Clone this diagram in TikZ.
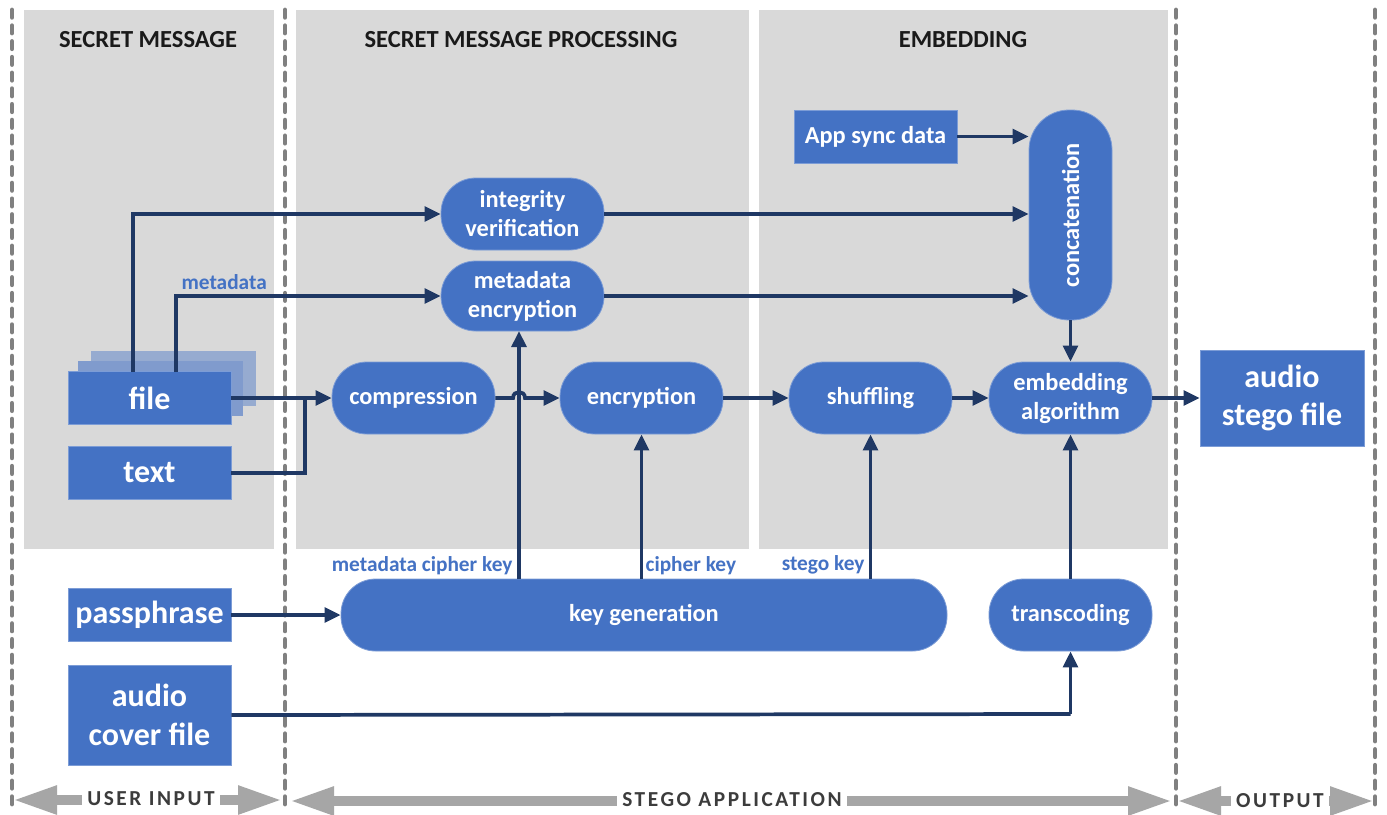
\documentclass[tikz,border=0pt]{standalone}
\usepackage{fontspec}
\setmainfont{Carlito}
\newfontfamily\spacedfont[LetterSpace=12]{Carlito}
\usetikzlibrary{arrows.meta}
\definecolor{boxblue}{HTML}{4472C4}
\definecolor{arrowblue}{HTML}{1F3864}
\definecolor{panelgrey}{HTML}{D9D9D9}
\definecolor{dotgrey}{HTML}{808080}
\definecolor{bigarrow}{HTML}{A6A6A6}
\definecolor{headtext}{HTML}{1A1A1A}
\begin{document}
\begin{tikzpicture}[x=0.75pt,y=-0.75pt,
  panel/.style={fill=panelgrey,draw=none},
  header/.style={font=\fontsize{18.4}{21}\selectfont\bfseries,text=headtext},
  sep/.style={draw=dotgrey,line width=3.6pt,line cap=round,dash pattern=on 5.5pt off 6.3pt},
  inbox/.style={rectangle,fill=boxblue,draw=boxblue!70!white,line width=0.6pt,text=white,
    minimum width=122.25pt,minimum height=39.75pt,inner sep=0pt,align=center,
    font=\fontsize{24}{29}\selectfont\bfseries},
  proc/.style={rectangle,rounded corners=26pt,fill=boxblue,draw=boxblue!70!white,line width=0.6pt,text=white,
    minimum width=122.25pt,minimum height=54pt,inner sep=0pt,align=center,
    font=\fontsize{18.3}{21.75}\selectfont\bfseries},
  conn/.style={draw=arrowblue,line width=2.8pt,-{Triangle[length=12pt,width=11pt]}},
  wire/.style={draw=arrowblue,line width=2.8pt},
  keylabel/.style={text=boxblue,font=\fontsize{16}{18}\selectfont\bfseries,inner sep=1pt},
  span/.style={draw=bigarrow,line width=7pt,{Triangle[length=33pt,width=20pt]}-{Triangle[length=33pt,width=20pt]}},
  spanlabel/.style={fill=white,text=headtext!85!white,inner sep=4pt,font=\spacedfont\fontsize{16}{18}\selectfont\bfseries}
]
\useasboundingbox (0,0) rectangle (1387,814);
\fill[white] (0,0) rectangle (1387,814);

% panels
\fill[panel] (24,10) rectangle (274,549);
\fill[panel] (296,10) rectangle (749,549);
\fill[panel] (759,10) rectangle (1168,549);

% separators
\draw[sep] (12,10) -- (12,808);
\draw[sep] (285,10) -- (285,808);
\draw[sep] (1176,10) -- (1176,808);
\draw[sep] (1375,10) -- (1375,808);

% headers
\node[header] (h1) at (148,40) {SECRET MESSAGE};
\node[header] (h2) at (521,40) {SECRET MESSAGE PROCESSING};
\node[header] (h3) at (963,40) {EMBEDDING};

% file stack
\fill[boxblue!45!panelgrey] (91,351) rectangle (256,406);
\fill[boxblue!60!panelgrey] (78,361) rectangle (243,416);

% input boxes
\node[inbox] (file) at (149.5,398) {file};
\node[inbox] (text) at (149.5,473) {text};
\node[inbox] (pass) at (149.5,615) {passphrase};
\node[inbox,minimum height=75pt] (cover) at (149.5,715) {audio\\cover file};
\node[inbox,minimum width=123pt,minimum height=72pt] (stego) at (1282,398) {audio\\stego file};
\node[inbox,font=\fontsize{18.3}{21}\selectfont\bfseries] (sync) at (875.5,136.5) {App sync data};

% process nodes
\node[proc] (integ) at (522.5,214) {integrity\\verification};
\node[proc,minimum height=52.5pt] (metaenc) at (522.5,296) {metadata\\encryption};
\node[proc] (comp) at (413.5,398) {compression};
\node[proc] (enc) at (641.5,398) {encryption};
\node[proc] (shuf) at (870.5,398) {shuffling};
\node[proc] (emb) at (1070.5,398) {embedding\\algorithm};
\node[proc,minimum width=454.5pt] (keygen) at (644,615) {key generation};
\node[proc] (trans) at (1070.5,615) {transcoding};
\node[proc,minimum width=62.25pt,minimum height=157.5pt,rounded corners=30pt] (concat) at (1070.5,215) {};
\node[text=white,rotate=90,font=\fontsize{18.3}{21}\selectfont\bfseries] (concatlabel) at (concat.center) {concatenation};

% connectors from inputs
\coordinate (f1) at (133,372);
\coordinate (f2) at (176,372);
\coordinate (j1) at (305,398);
\draw[conn] (f1) |- (integ.west);
\draw[conn] (f2) |- (metaenc.west);
\node[keylabel,anchor=south west] (mdlabel) at (180,291) {metadata};
\draw[conn] (file.east) -- (comp.west);
\draw[wire] (text.east) -| (j1);
\draw[conn] (pass.east) -- (keygen.west);
\coordinate (c1) at (1070.5,714);
\draw[wire] (cover.east) -- (c1);
\draw[conn] (c1) -- (trans.south);

% key generation outputs
\coordinate (k1) at (519,579);
\coordinate (k2) at (641.5,579);
\coordinate (k3) at (870.5,579);
\draw[conn] (k1) -- (519,331);
\draw[conn] (k2) -- (enc.south);
\draw[conn] (k3) -- (shuf.south);
\node[keylabel,anchor=south east] (l1) at (514,576) {metadata cipher key};
\node[keylabel,anchor=south west] (l2) at (644,576) {cipher key};
\node[keylabel,anchor=south east] (l3) at (866,576) {stego key};

% main chain
\draw[conn] (comp.east) -- (513,398) .. controls (513,390) and (525,390) .. (525,398) -- (enc.west);
\draw[conn] (enc.east) -- (shuf.west);
\draw[conn] (shuf.east) -- (emb.west);
\draw[conn] (emb.east) -- (stego.west);
\draw[conn] (concat.south) -- (emb.north);
\draw[conn] (trans.north) -- (emb.south);

% into concatenation
\draw[conn] (sync.east) -- (sync.east -| concat.west);
\draw[conn] (integ.east) -- (integ.east -| concat.west);
\draw[conn] (metaenc.east) -- (metaenc.east -| concat.west);

% bottom spans
\draw[span] (13,800) -- (282,800);
\node[spanlabel] (s1) at (151,799) {USER INPUT};
\draw[span] (290,801) -- (1172,801);
\node[spanlabel] (s2) at (732,800) {STEGO APPLICATION};
\draw[span] (1177,801) -- (1374,801);
\node[spanlabel] (s3) at (1280,801) {OUTPUT};
\end{tikzpicture}
\end{document}
